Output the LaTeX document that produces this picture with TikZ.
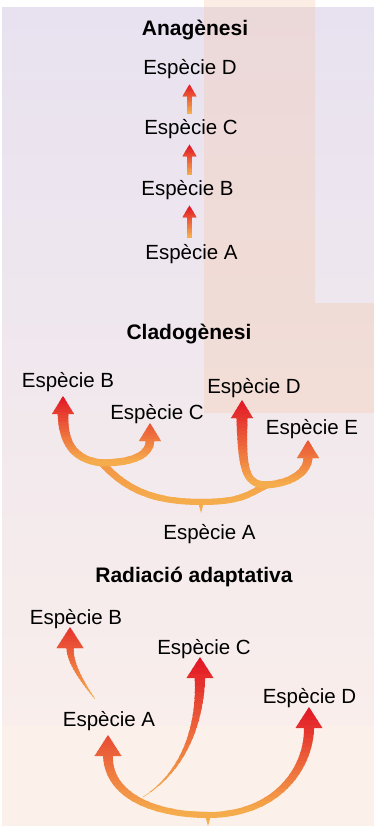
\documentclass[tikz,border=0pt]{standalone}
\usepackage{fontspec}
\setmainfont{Liberation Sans}
\usetikzlibrary{arrows.meta}

\definecolor{lavender}{RGB}{232,226,240}
\definecolor{blush}{RGB}{249,238,235}
\definecolor{peach}{RGB}{252,241,234}
\definecolor{bandcol}{RGB}{245,196,165}
\definecolor{tipred}{RGB}{226,22,38}
\definecolor{baseorange}{RGB}{245,172,76}

\tikzset{
  species/.style={inner sep=0pt, anchor=base, font=\fontsize{20.5}{24}\selectfont},
  sectitle/.style={inner sep=0pt, anchor=base, font=\fontsize{21}{25}\selectfont\bfseries},
  anahead/.style={-{Triangle[width=14pt,length=12pt,line width=0pt]}},
  clhead/.style={line cap=round, -{Triangle[width=22pt,length=18pt,line width=0pt]}},
  rahead/.style={line cap=round, -{Triangle[width=27pt,length=21pt,line width=0pt]}},
  nohead/.style={line cap=round},
}

% #1 tip style, #2 top y, #3 bottom y, #4 top width, #5 bottom width, #6 red at top, #7 path
\newcommand\gradarrow[7]{%
  \foreach \k in {0,...,23}{%
    \pgfmathsetmacro\ya{\k==0 ? -100 : #2+(#3-#2)*\k/24}%
    \pgfmathsetmacro\yb{\k==23 ? 1000 : #2+(#3-#2)*(\k+1)/24+0.3}%
    \pgfmathsetmacro\wk{#4+(#5-#4)*\k/23}%
    \pgfmathtruncatemacro\mk{#6*(1-\k/23)}%
    \begin{scope}
      \clip (-10,\ya) rectangle (400,\yb);
      \draw[#1, line width=\wk pt, draw=tipred!\mk!baseorange] #7;
    \end{scope}}}

\begin{document}
\begin{tikzpicture}[x=1pt,y=-1pt]
\useasboundingbox (0,0) rectangle (374,826);

% background
\fill[white] (0,0) rectangle (374,826);
\shade[top color=lavender, bottom color=blush] (2,8) rectangle (374,726);
\fill[peach] (2,726) rectangle (374,826);
\fill[bandcol, opacity=.3] (204,0) -- (315,0) -- (315,303) -- (374,303) -- (374,413) -- (204,413) -- cycle;

% Anagenesi
\node[sectitle] (anatitle) at (195,36) {Anagènesi};
\node[species] (anaD) at (190,75) {Espècie D};
\node[species] (anaC) at (191,135) {Espècie C};
\node[species] (anaB) at (187.5,196) {Espècie B};
\node[species] (anaA) at (191.5,259) {Espècie A};
\coordinate (anax) at (189.5,0);

\gradarrow{anahead, shorten <=5.5pt, shorten >=5pt}{84}{114}{5}{5}{100}{(anaC.north -| anax) -- (anaD.south -| anax)}
\gradarrow{anahead, shorten <=5.5pt, shorten >=5pt}{146}{176}{5}{5}{100}{(anaB.north -| anax) -- (anaC.south -| anax)}
\gradarrow{anahead, shorten <=5.5pt, shorten >=5pt}{207}{237}{5}{5}{100}{(anaA.north -| anax) -- (anaB.south -| anax)}

% Cladogenesi
\node[sectitle] (cltitle) at (189,339) {Cladogènesi};
\node[species] (clB) at (68,387) {Espècie B};
\node[species] (clC) at (157,419) {Espècie C};
\node[species] (clD) at (254,393) {Espècie D};
\node[species] (clE) at (312,434) {Espècie E};
\node[species] (clA) at (209.5,539) {Espècie A};

\coordinate (clL) at (102,463);
\coordinate (clR) at (267,485);
\coordinate (clroot) at (201,502);
\coordinate (clBtip) at (63,396);
\coordinate (clCtip) at (150,423);
\coordinate (clDtip) at (242,400);
\coordinate (clEtip) at (308,440);

\gradarrow{nohead}{463}{502}{7}{6}{15}{(clL) .. controls +(25,28) and +(-45,0) .. (clroot) .. controls +(40,0) and +(-20,10) .. (clR)}
\gradarrow{clhead}{396}{463}{12}{7}{100}{(clL) .. controls +(-30,-3) and +(0,45) .. (clBtip)}
\gradarrow{clhead}{423}{463}{10}{7}{60}{(clL) .. controls +(35,0) and +(0,30) .. (clCtip)}
\gradarrow{clhead}{400}{485}{12}{7}{100}{(clR) .. controls +(-22,0) and +(0,70) .. (clDtip)}
\gradarrow{clhead}{440}{485}{10}{7}{60}{(clR) .. controls +(28,-2) and +(0,30) .. (clEtip)}
\fill[baseorange] ([xshift=-3pt]clroot) -- ([xshift=3pt]clroot) -- ([yshift=-11pt]clroot) -- cycle;

% Radiacio adaptativa
\node[sectitle] (ratitle) at (194,582) {Radiació adaptativa};
\node[species] (raB) at (76,624) {Espècie B};
\node[species] (raC) at (204,654) {Espècie C};
\node[species] (raD) at (309.5,703) {Espècie D};
\node[species] (raA) at (109,726) {Espècie A};

\coordinate (raroot) at (208,815);
\coordinate (raAtip) at (108,735);
\coordinate (raDtip) at (309,707);
\coordinate (raCtip) at (200,657);
\coordinate (raBtip) at (70,627);
\coordinate (raCtail) at (143,797);
\coordinate (raBtail) at (95,699);

\gradarrow{rahead}{735}{815}{11}{6}{65}{(raroot) .. controls +(-55,0) and +(0,60) .. (raAtip)}
\gradarrow{rahead}{707}{815}{11}{6}{100}{(raroot) .. controls +(70,0) and +(0,60) .. (raDtip)}
\gradarrow{rahead}{657}{797}{12}{0.5}{100}{(raCtail) .. controls +(40,-25) and +(0,70) .. (raCtip)}
\gradarrow{rahead}{627}{699}{10}{0.5}{80}{(raBtail) .. controls +(-15,-20) and +(0,35) .. (raBtip)}
\fill[baseorange] ([xshift=-3pt]raroot) -- ([xshift=3pt]raroot) -- ([yshift=-11pt]raroot) -- cycle;

\end{tikzpicture}
\end{document}
